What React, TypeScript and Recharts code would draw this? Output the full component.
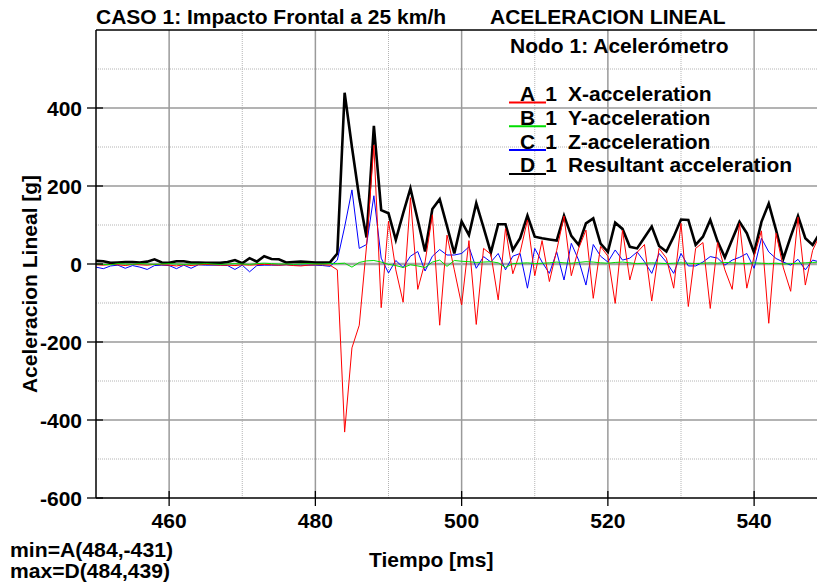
import React from 'react'
import { LineChart, Line, XAxis, YAxis, ReferenceLine } from 'recharts'

// tiempo [ms], one sample per ms
const TIME_MS = [
  450, 451, 452, 453, 454, 455, 456, 457, 458, 459,
  460, 461, 462, 463, 464, 465, 466, 467, 468, 469,
  470, 471, 472, 473, 474, 475, 476, 477, 478, 479,
  480, 481, 482, 483, 484, 485, 486, 487, 488, 489,
  490, 491, 492, 493, 494, 495, 496, 497, 498, 499,
  500, 501, 502, 503, 504, 505, 506, 507, 508, 509,
  510, 511, 512, 513, 514, 515, 516, 517, 518, 519,
  520, 521, 522, 523, 524, 525, 526, 527, 528, 529,
  530, 531, 532, 533, 534, 535, 536, 537, 538, 539,
  540, 541, 542, 543, 544, 545, 546, 547, 548, 549,
]

// A 1 X-acceleration [g]
const X_ACC = [
  -2, -3, -1, -2, -4, -1, -2, -3, -1, -2,
  -3, -5, -2, -4, -2, -1, -2, -3, -3, -4,
  -2, -3, -2, -1, -2, -3, -2, -4, -5, -3,
  -2, -2, -3, -15, -431, -215, -157, 47, 305, -112,
  110, -15, -98, 170, -65, 5, 126, -157, 74, -15,
  -105, 60, -155, 40, 25, -92, 91, -25, 30, 113,
  -30, 60, -45, 35, 123, -30, 40, 87, -88, 45,
  20, -101, 87, -41, 30, 50, -95, 40, 15, -62,
  104, -109, 40, 55, -114, 55, -15, -65, 104, -62,
  20, 85, -152, 79, -10, -70, 120, -54, 35, 75,
]

// B 1 Y-acceleration [g]
const Y_ACC = [
  0, -1, -2, 1, 0, -1, 1, 0, -1, 0,
  1, 0, -1, 0, 0, 1, 0, -1, 0, 1,
  0, -1, 1, 2, 1, 0, 0, -1, 0, 1,
  0, 0, 1, 1, 2, -8, 4, 8, 9, 5,
  -1, -4, -9, -2, -5, -9, 5, 10, -6, 9,
  7, 6, 4, 5, 6, 3, -9, 1, 2, 3,
  1, 2, 3, 5, 3, 2, 4, 6, 5, 3,
  2, 4, 5, 3, 1, 2, 3, 2, 1, 2,
  3, 2, 1, 2, 3, 2, 4, 3, 2, 1,
  3, 2, 1, 2, 0, 1, 2, 3, 4, 5,
]

// C 1 Z-acceleration [g]
const Z_ACC = [
  -8, -12, -5, -3, -11, -4, -8, -14, -4, -3,
  -4, -12, -3, -11, -2, -3, -3, -3, -4, -14,
  -3, -20, -4, -3, -3, -3, -2, -3, -3, -3,
  -3, -4, -6, 10, 95, 190, 40, 50, 175, 15,
  -23, 9, -9, 20, 32, -18, 20, 37, 23, 23,
  27, 44, -11, 19, 5, 27, -15, 20, 27, -62,
  40, 5, -24, 31, -41, 53, 10, -54, 50, 20,
  5, 36, 10, 15, 31, 6, -24, 27, 5, -24,
  27, -5, -5, 5, 19, 15, -3, 10, 17, 27,
  -11, 66, 31, 14, 5, -3, 12, -15, 10, 5,
]

// D 1 Resultant acceleration [g]
const RES_ACC = [
  8, 7, 3, 4, 5, 5, 4, 6, 12, 4,
  3, 7, 7, 4, 4, 3, 3, 3, 5, 10,
  2, 15, 6, 20, 13, 12, 4, 5, 6, 5,
  4, 4, 4, 27, 439, 300, 170, 68, 354, 138,
  130, 62, 130, 194, 113, 32, 141, 166, 97, 27,
  109, 74, 156, 93, 29, 102, 102, 36, 66, 124,
  70, 66, 63, 60, 124, 72, 49, 104, 117, 52,
  31, 106, 90, 44, 40, 68, 96, 46, 32, 70,
  114, 113, 49, 70, 113, 58, 17, 63, 108, 79,
  29, 108, 155, 87, 14, 70, 123, 66, 49, 80,
]

const X_TICKS = [460, 480, 500, 520, 540]
const X_MINOR = [470, 490, 510, 530]
const Y_TICKS = [-600, -400, -200, 0, 200, 400]
const Y_MAJOR = [-400, -200, 200, 400]
const Y_MINOR = [-500, -300, -100, 100, 300, 500]

const SERIES_KEYS = ['res', 'z', 'x', 'y']
const SERIES_COLORS = { x: '#ff0000', y: '#00dd00', z: '#0000ff', res: '#000000' }
const LEGEND_LETTERS = ['A', 'B', 'C', 'D']
const LEGEND_LABELS = ['X-acceleration', 'Y-acceleration', 'Z-acceleration', 'Resultant acceleration']
const LEGEND_KEYS = ['x', 'y', 'z', 'res']

const data = TIME_MS.map((t, i) => ({
  t,
  x: X_ACC[i],
  y: Y_ACC[i],
  z: Z_ACC[i],
  res: RES_ACC[i],
}))

const FONT = '"Liberation Sans", Arial, Helvetica, sans-serif'
const txt = { fontFamily: FONT, fontWeight: 700, fontSize: 21, fill: '#000' }
const small = { ...txt, fontSize: 20 }

function XTick(props: any) {
  const { x, y, payload } = props
  return (
    <g>
      <line x1={x} x2={x} y1={y - 7} y2={y + 8} stroke="#000" strokeWidth={1.3} />
      <text x={x} y={y + 30} textAnchor="middle" style={txt}>
        {payload.value}
      </text>
    </g>
  )
}

function YTick(props: any) {
  const { x, y, payload } = props
  return (
    <g>
      <line x1={x - 9} x2={x + 7} y1={y} y2={y} stroke="#000" strokeWidth={1.3} />
      <text x={x - 14} y={y + 7.5} textAnchor="end" style={txt}>
        {payload.value}
      </text>
    </g>
  )
}

export default function App() {
  return (
    <div
      style={{
        position: 'absolute',
        left: 0,
        top: 0,
        width: 817,
        height: 583,
        overflow: 'hidden',
        background: '#fff',
      }}
    >
      <LineChart
        width={842}
        height={583}
        data={data}
        margin={{ top: 30, right: 14.75, left: 0, bottom: 45 }}
      >
        <XAxis
          dataKey="t"
          type="number"
          domain={[450, 550]}
          ticks={X_TICKS}
          allowDataOverflow
          height={40}
          tickSize={0}
          tickMargin={0}
          tick={<XTick />}
          axisLine={{ stroke: '#000', strokeWidth: 1.5 }}
        />
        <YAxis
          type="number"
          domain={[-600, 600]}
          ticks={Y_TICKS}
          width={96}
          tickSize={0}
          tickMargin={0}
          tick={<YTick />}
          axisLine={{ stroke: '#000', strokeWidth: 1.5 }}
        />
        {X_MINOR.map((v) => (
          <ReferenceLine key={'xm' + v} x={v} stroke="#b4b4b4" strokeDasharray="1 1" />
        ))}
        {Y_MINOR.map((v) => (
          <ReferenceLine key={'ym' + v} y={v} stroke="#b4b4b4" strokeDasharray="1 1" />
        ))}
        {X_TICKS.map((v) => (
          <ReferenceLine key={'xM' + v} x={v} stroke="#9a9a9a" strokeWidth={1.5} />
        ))}
        {Y_MAJOR.map((v) => (
          <ReferenceLine key={'yM' + v} y={v} stroke="#9a9a9a" strokeWidth={1.5} />
        ))}
        <ReferenceLine y={0} stroke="#a8a8a8" strokeWidth={2.6} />
        <ReferenceLine y={600} stroke="#000" strokeWidth={1.5} />
        {SERIES_KEYS.map((k) => (
          <Line
            key={k}
            type="linear"
            dataKey={k}
            stroke={SERIES_COLORS[k as keyof typeof SERIES_COLORS]}
            strokeWidth={k === 'res' ? 2.6 : 1}
            dot={false}
            isAnimationActive={false}
          />
        ))}
      </LineChart>

      <svg
        width={817}
        height={583}
        style={{ position: 'absolute', left: 0, top: 0, pointerEvents: 'none' }}
      >
        <text x={96} y={24} style={txt}>CASO 1: Impacto Frontal a 25 km/h</text>
        <text x={490} y={24} style={txt}>ACELERACION LINEAL</text>
        <text x={510} y={53} style={txt}>Nodo 1: Acelerómetro</text>
        {LEGEND_KEYS.map((k, i) => {
          const by = 101 + i * 23.8
          return (
            <g key={k}>
              <line
                x1={509}
                x2={546}
                y1={by + 1.5}
                y2={by + 1.5}
                stroke={SERIES_COLORS[k as keyof typeof SERIES_COLORS]}
                strokeWidth={2}
              />
              <text x={527.5} y={by} textAnchor="middle" style={txt}>{LEGEND_LETTERS[i]}</text>
              <text x={551} y={by} textAnchor="middle" style={txt}>1</text>
              <text x={568} y={by} style={txt}>{LEGEND_LABELS[i]}</text>
            </g>
          )
        })}
        <text
          x={37}
          y={284}
          textAnchor="middle"
          transform="rotate(-90 37 284)"
          style={txt}
        >
          Aceleracion Lineal [g]
        </text>
        <text x={369} y={567} style={txt}>Tiempo [ms]</text>
        <text x={10} y={557} style={small} textLength={163} lengthAdjust="spacingAndGlyphs">
          min=A(484,-431)
        </text>
        <text x={10} y={578} style={small} textLength={160} lengthAdjust="spacingAndGlyphs">
          max=D(484,439)
        </text>
      </svg>
    </div>
  )
}
